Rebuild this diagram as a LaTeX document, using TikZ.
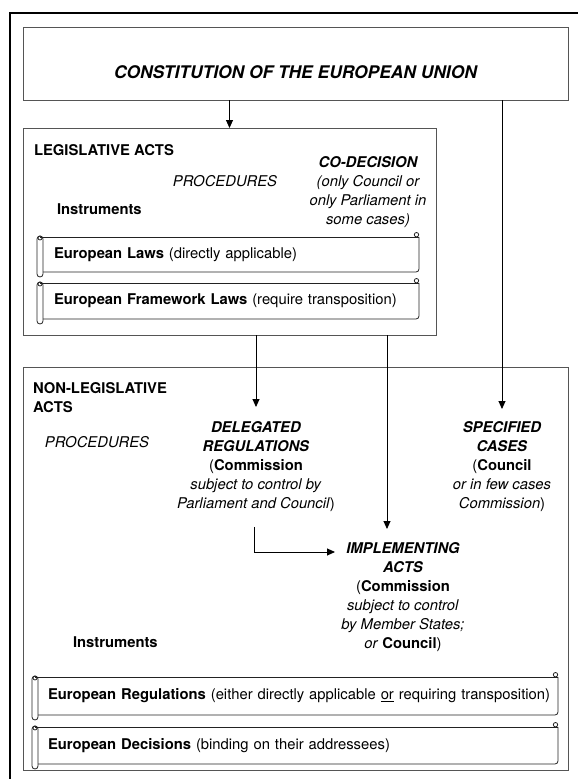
\documentclass[tikz,border=0pt]{standalone}
\usepackage{fontspec}
\setmainfont{TeX Gyre Heros}
\usetikzlibrary{arrows.meta,calc}
\definecolor{edge}{HTML}{555555}
\definecolor{ink}{HTML}{222222}
\newcommand\fsz{\fontsize{14.8pt}{19pt}\selectfont}
\newcommand\scrolldeco[1]{%
  \draw[scrollline] ($(#1.north west)+(-3,0)$) -- (#1.north east);
  \draw[scrollline, rounded corners=3pt] (#1.north east) -- (#1.south east) -- (#1.south west);
  \draw[scrollline, rounded corners=3pt] ($(#1.north west)+(-6,-1)$) rectangle ($(#1.south west)+(0,5)$);
  \draw[scrollline] ($(#1.north west)+(-3,1)$) circle[radius=2pt];
  \draw[scrollline] ($(#1.north east)+(-2.5,-2.3)$) circle[radius=2.2pt];
}
\begin{document}
\begin{tikzpicture}[x=1pt,y=-1pt,
  framebox/.style={draw=edge, line width=0.9pt, rectangle, inner sep=0pt, outer sep=0pt, anchor=north west},
  scrollbody/.style={rectangle, inner xsep=11pt, inner ysep=0pt, outer sep=0pt, anchor=north west, align=left, minimum height=#1, font=\fsz},
  scrollline/.style={draw=ink, line width=0.8pt},
  arr/.style={draw=black, line width=0.9pt, -{Triangle[length=8pt,width=7pt]}},
  lbl/.style={inner sep=0pt, outer sep=0pt},
  blk/.style={inner sep=0pt, outer sep=0pt, align=center, anchor=north, font=\fsz},
  outerframe/.style={draw=black, line width=2.5pt}
]
\useasboundingbox (0,0) rectangle (578,779);
\draw[outerframe] (10,781) -- (10,13) -- (580,13);

% main boxes
\node[framebox, minimum width=545pt, minimum height=73pt] (const) at (23,27) {};
\node[framebox, minimum width=413pt, minimum height=207pt] (leg) at (23,128) {};
\node[framebox, minimum width=545pt, minimum height=403pt] (nonleg) at (23,367) {};

\node[lbl, font=\fontsize{17.4pt}{20pt}\selectfont\bfseries\itshape] (title) at (295.5,72) {CONSTITUTION OF THE EUROPEAN UNION};

% legislative acts
\node[lbl, anchor=base west, font=\fsz\bfseries] (legt) at (34,155.3) {LEGISLATIVE ACTS};
\node[lbl, anchor=base, font=\fsz\itshape] (proc1) at (225,186.3) {PROCEDURES};
\node[lbl, anchor=base west, font=\fsz\bfseries] (inst1) at (57,214.3) {Instruments};
\node[blk, font=\fsz\itshape] (codec) at (368,156.7) {\textbf{CO-DECISION}\\(only Council or\\only Parliament in\\some cases)};

\node[scrollbody=35pt, text width=354pt] (laws) at (43,237) {\raisebox{1.5pt}{\textbf{European Laws} (directly applicable)}};
\node[scrollbody=36pt, text width=354pt] (fwl) at (43,283) {\raisebox{2pt}{\textbf{European Framework Laws} (require transposition)}};
\scrolldeco{laws}
\scrolldeco{fwl}

% non-legislative acts
\node[lbl, anchor=north west, align=left, font=\fsz\bfseries] (nlt) at (33,382.7) {NON-LEGISLATIVE\\ACTS};
\node[lbl, anchor=base, font=\fsz\itshape] (proc2) at (97,447.3) {PROCEDURES};
\node[blk] (del) at (256,421.7) {\textbf{\textit{DELEGATED}}\\\textbf{\textit{REGULATIONS}}\\(\textbf{Commission}\\\textit{subject to control by}\\\textit{Parliament and Council})};
\node[blk] (spec) at (502,421.7) {\textbf{\textit{SPECIFIED}}\\\textbf{\textit{CASES}}\\(\textbf{Council}\\\textit{or in few cases}\\\textit{Commission})};
\node[blk] (impl) at (403,542.7) {\textbf{\textit{IMPLEMENTING}}\\\textbf{\textit{ACTS}}\\(\textbf{Commission}\\\textit{subject to control}\\\textit{by Member States;}\\\textit{or} \textbf{Council})};
\node[lbl, anchor=base west, font=\fsz\bfseries] (inst2) at (73,647.3) {Instruments};

\node[scrollbody=38pt, text width=500pt, inner xsep=10pt] (regs) at (38,677) {\raisebox{3pt}{\mbox{\textbf{European Regulations} (either directly applicable \underline{or} requiring transposition)}}};
\node[scrollbody=37pt, text width=500pt, inner xsep=10pt] (decs) at (38,727) {\raisebox{2pt}{\textbf{European Decisions} (binding on their addressees)}};
\scrolldeco{regs}
\scrolldeco{decs}

% connectors
\coordinate (implin) at (387,529);
\coordinate (implL) at (335,552);
\draw[arr] (const.south -| leg.north) -- (leg.north);
\draw[arr, shorten >=12.7pt] (const.south -| spec.north) -- (spec.north);
\draw[arr, shorten >=14.7pt] (leg.south -| del.north) -- (del.north);
\draw[arr] (leg.south -| implin) -- (implin);
\draw[arr, shorten <=15pt] ([xshift=-1.5pt]del.south) |- (implL);
\end{tikzpicture}
\end{document}
